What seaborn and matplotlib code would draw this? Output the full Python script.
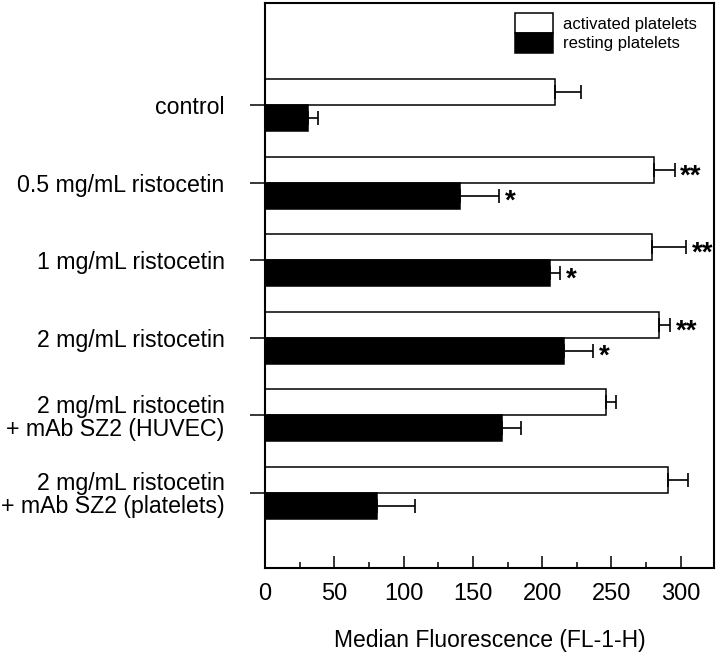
"""Horizontal grouped bar chart: median fluorescence of platelets."""
import matplotlib
matplotlib.use('Agg')
import matplotlib.pyplot as plt
from matplotlib.patches import Patch
from matplotlib.ticker import MultipleLocator
import numpy as np
import pandas as pd
import seaborn as sns

# Data
conditions = [
    'control',
    '0.5 mg/mL ristocetin',
    '1 mg/mL ristocetin',
    '2 mg/mL ristocetin',
    '2 mg/mL ristocetin\n+ mAb SZ2 (HUVEC)',
    '2 mg/mL ristocetin\n+ mAb SZ2 (platelets)',
]
groups = ['activated platelets', 'resting platelets']
activated = [209, 281, 279, 284, 246, 291]
activated_err = [19, 14.5, 25, 8.5, 7, 14.5]
resting = [31, 141, 206, 216, 171, 81]
resting_err = [7, 28, 7, 21, 13.5, 27]
activated_stars = ['', '**', '**', '**', '', '']
resting_stars = ['', '*', '*', '*', '', '']

plt.rcParams['font.family'] = ['Liberation Sans', 'DejaVu Sans']

df = pd.DataFrame({
    'condition': conditions * 2,
    'group': [groups[0]] * len(conditions) + [groups[1]] * len(conditions),
    'value': activated + resting,
})

fig = plt.figure(figsize=(7.2, 6.52), dpi=100)
ax = fig.add_axes([0.368, 0.1288, 0.6237, 0.8666])

sns.barplot(
    data=df, x='value', y='condition', hue='group', orient='h',
    order=conditions, hue_order=groups,
    palette={groups[0]: 'white', groups[1]: 'black'},
    edgecolor='black', linewidth=1.1, saturation=1,
    width=2 / 3, errorbar=None, legend=False, ax=ax,
)

# One-sided error bars and significance marks
errs = [activated_err, resting_err]
stars = [activated_stars, resting_stars]
for container, err, marks in zip(ax.containers, errs, stars):
    vals = np.array([p.get_width() for p in container])
    ys = np.array([p.get_y() + p.get_height() / 2 for p in container])
    err = np.array(err)
    ax.errorbar(vals, ys, xerr=[np.zeros_like(err), err], fmt='none',
                ecolor='black', elinewidth=1.2, capsize=5, capthick=1.2)
    for v, e, y, s in zip(vals, err, ys, marks):
        if s:
            ax.annotate(s, (v + e, y), xytext=(4, -4.5), textcoords='offset points',
                        ha='left', va='center', fontsize=20, fontweight='bold')

ax.set_xlim(0, 324)
ax.set_ylim(5.97, -1.32)

ax.xaxis.set_major_locator(MultipleLocator(50))
ax.xaxis.set_minor_locator(MultipleLocator(25))
ax.tick_params(axis='x', which='major', direction='in', length=8.5, width=1.1,
               labelsize=17, pad=11)
ax.tick_params(axis='x', which='minor', direction='in', length=4.3, width=1.1)
ax.set_yticks(range(len(conditions)), conditions)
ax.tick_params(axis='y', direction='out', length=11, width=1.1,
               labelsize=16.7, pad=18)
for lbl in ax.get_yticklabels():
    lbl.set_linespacing(1.0)

for side in ax.spines.values():
    side.set_linewidth(1.5)

ax.set_xlabel('Median Fluorescence (FL-1-H)', fontsize=16.5, labelpad=17)
ax.set_ylabel('')

handles = [Patch(facecolor='white', edgecolor='black', linewidth=1.1),
           Patch(facecolor='black', edgecolor='black', linewidth=1.1)]
ax.legend(handles, groups, loc='upper left', bbox_to_anchor=(0.557, 0.982),
          frameon=False, fontsize=12, borderpad=0, borderaxespad=0,
          handlelength=2.3, handleheight=1.44, labelspacing=0,
          handletextpad=0.55)

fig.savefig('out.png', dpi=100)
plt.close(fig)
